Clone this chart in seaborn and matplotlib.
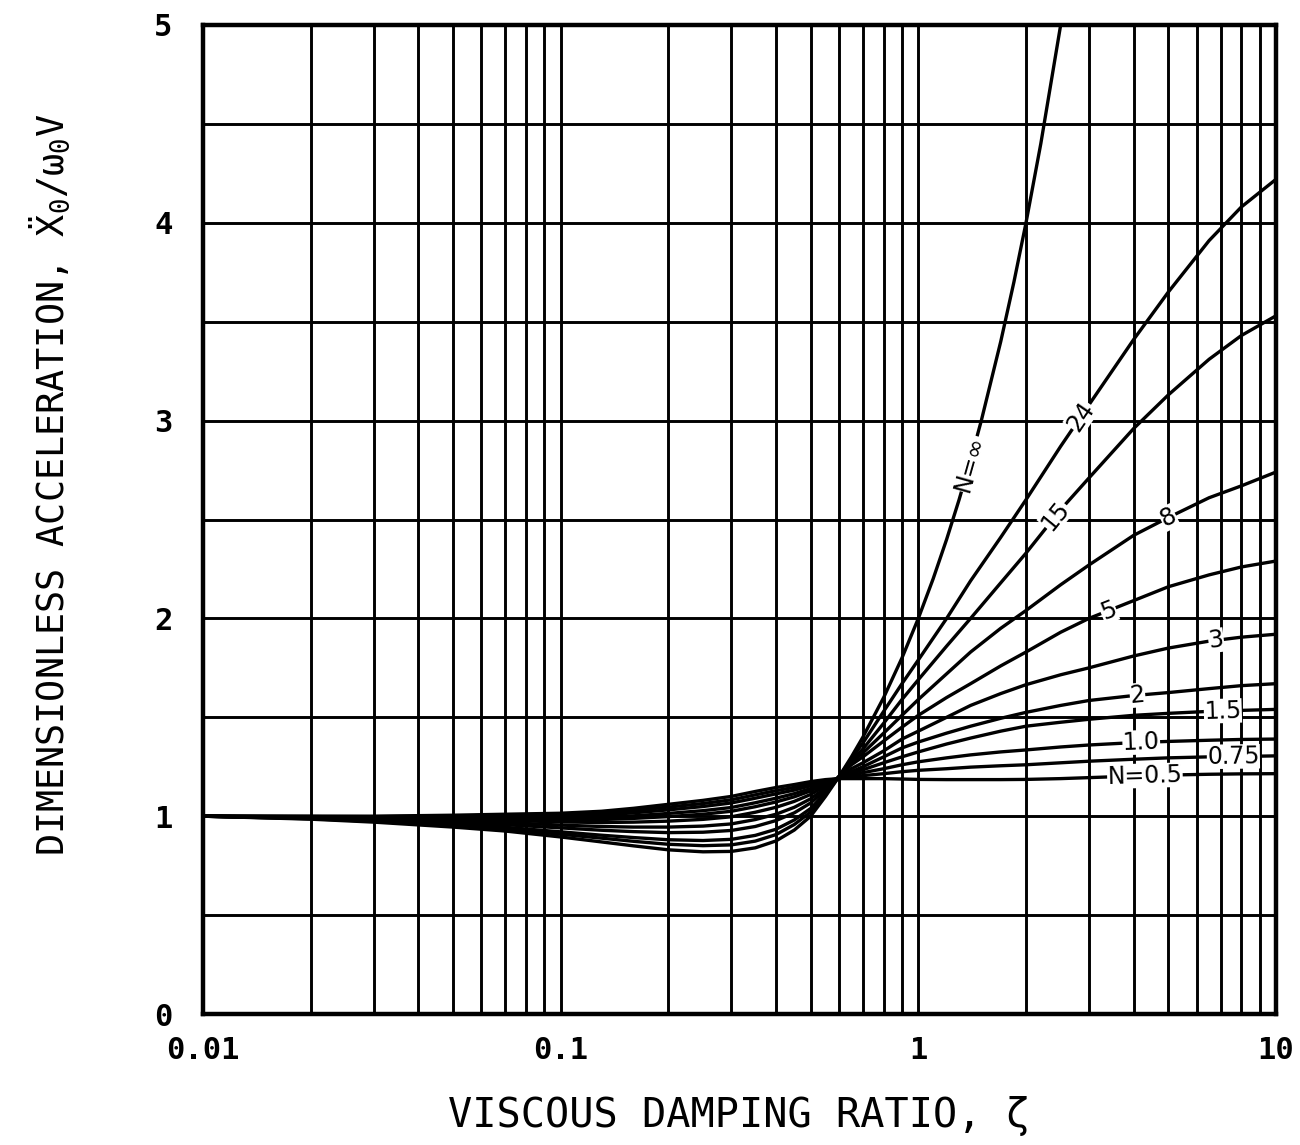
import numpy as np
import pandas as pd
import matplotlib
matplotlib.use("Agg")
import matplotlib.pyplot as plt
import seaborn as sns
from matplotlib.ticker import (FixedLocator, FixedFormatter, LogLocator,
                               MultipleLocator, NullFormatter)

# Damping ratio grid shared by the finite-N curves
zeta = [0.01, 0.02, 0.03, 0.05, 0.07, 0.1, 0.13, 0.16, 0.2, 0.25, 0.3, 0.35, 0.4,
        0.45, 0.5, 0.55, 0.6,
        0.65, 0.7, 0.8, 0.9, 1.0, 1.2, 1.4, 1.7, 2.0, 2.5, 3.0, 4.0, 5.0, 6.5, 8.0, 10.0]

# Peak dimensionless acceleration for each stiffness ratio N
accel_n0_5 = [1.0, 1.0, 1.0, 1.005, 1.01, 1.015, 1.025, 1.04, 1.06, 1.08, 1.1, 1.125,
              1.145, 1.16, 1.175, 1.185, 1.19,
              1.19, 1.19, 1.19, 1.188, 1.186, 1.185, 1.185, 1.185, 1.186, 1.19, 1.195,
              1.203, 1.208, 1.212, 1.214, 1.215]
accel_n0_75 = [1.0, 0.999, 0.998, 1.001, 1.005, 1.008, 1.016, 1.029, 1.046, 1.064, 1.083,
               1.108, 1.129, 1.146, 1.165, 1.18, 1.19,
               1.20, 1.205, 1.215, 1.225, 1.232, 1.24, 1.248, 1.255, 1.26, 1.27, 1.278,
               1.288, 1.295, 1.30, 1.302, 1.305]
accel_n1_0 = [1.0, 0.998, 0.996, 0.998, 1.0, 1.001, 1.006, 1.017, 1.032, 1.049, 1.067,
              1.091, 1.113, 1.132, 1.154, 1.175, 1.19,
              1.205, 1.22, 1.24, 1.26, 1.275, 1.295, 1.31, 1.325, 1.335, 1.35, 1.36,
              1.372, 1.378, 1.384, 1.388, 1.39]
accel_n1_5 = [1.0, 0.997, 0.994, 0.993, 0.993, 0.991, 0.994, 1.002, 1.014, 1.028, 1.044,
              1.068, 1.091, 1.114, 1.14, 1.168, 1.19,
              1.215, 1.235, 1.27, 1.30, 1.325, 1.365, 1.395, 1.43, 1.455, 1.475, 1.49,
              1.51, 1.52, 1.53, 1.535, 1.54]
accel_n2 = [1.0, 0.996, 0.992, 0.989, 0.987, 0.983, 0.983, 0.989, 0.998, 1.01, 1.025,
            1.048, 1.072, 1.098, 1.128, 1.162, 1.195,
            1.225, 1.25, 1.30, 1.345, 1.375, 1.42, 1.455, 1.495, 1.525, 1.56, 1.585,
            1.61, 1.625, 1.645, 1.66, 1.67]
accel_n3 = [1.0, 0.994, 0.989, 0.983, 0.979, 0.971, 0.968, 0.97, 0.975, 0.984, 0.997,
            1.02, 1.045, 1.075, 1.11, 1.154, 1.195,
            1.24, 1.27, 1.33, 1.39, 1.43, 1.50, 1.56, 1.62, 1.665, 1.715, 1.75,
            1.81, 1.85, 1.885, 1.905, 1.92]
accel_n5 = [1.0, 0.993, 0.985, 0.975, 0.968, 0.955, 0.948, 0.945, 0.945, 0.95, 0.961,
            0.983, 1.01, 1.045, 1.088, 1.143, 1.2,
            1.26, 1.30, 1.38, 1.45, 1.51, 1.60, 1.67, 1.76, 1.83, 1.93, 2.0,
            2.09, 2.16, 2.22, 2.26, 2.29]
accel_n8 = [1.0, 0.991, 0.981, 0.968, 0.957, 0.941, 0.929, 0.922, 0.917, 0.919, 0.928,
            0.948, 0.978, 1.017, 1.067, 1.132, 1.2,
            1.27, 1.32, 1.42, 1.51, 1.59, 1.72, 1.83, 1.95, 2.04, 2.17, 2.27,
            2.42, 2.51, 2.61, 2.67, 2.74]
accel_n15 = [1.0, 0.988, 0.977, 0.958, 0.944, 0.921, 0.904, 0.892, 0.881, 0.877, 0.883,
             0.903, 0.934, 0.981, 1.039, 1.119, 1.2,
             1.28, 1.34, 1.47, 1.59, 1.69, 1.86, 2.0, 2.18, 2.33, 2.55, 2.71,
             2.96, 3.13, 3.31, 3.43, 3.53]
accel_n24 = [1.0, 0.987, 0.974, 0.952, 0.935, 0.909, 0.889, 0.873, 0.858, 0.851, 0.855,
             0.874, 0.907, 0.958, 1.021, 1.11, 1.2,
             1.29, 1.37, 1.53, 1.67, 1.79, 2.0, 2.19, 2.41, 2.6, 2.87, 3.08,
             3.41, 3.65, 3.91, 4.08, 4.22]

# The N = infinity curve leaves the top of the chart near zeta = 2.5
zeta_inf = [0.01, 0.02, 0.03, 0.05, 0.07, 0.1, 0.13, 0.16, 0.2, 0.25, 0.3, 0.35, 0.4,
            0.45, 0.5, 0.55, 0.6, 0.65, 0.7, 0.8, 0.9, 1.0, 1.1, 1.2, 1.3, 1.4, 1.5,
            1.7, 1.85, 2.0, 2.2, 2.5]
accel_inf = [1.0, 0.985, 0.97, 0.945, 0.925, 0.895, 0.87, 0.85, 0.83, 0.82, 0.822,
             0.84, 0.875, 0.93, 1.0, 1.1, 1.2, 1.3, 1.4, 1.6, 1.8, 2.0, 2.2, 2.4, 2.6,
             2.8, 3.0, 3.4, 3.7, 4.0, 4.4, 5.0]

curve_names = ["0.5", "0.75", "1.0", "1.5", "2", "3", "5", "8", "15", "24", "inf"]
curve_zeta = [zeta] * 10 + [zeta_inf]
curve_accel = [accel_n0_5, accel_n0_75, accel_n1_0, accel_n1_5, accel_n2, accel_n3,
               accel_n5, accel_n8, accel_n15, accel_n24, accel_inf]

# In-line curve labels: text and the damping ratio where each sits
label_text = ["N=0.5", "0.75", "1.0", "1.5", "2", "3", "5", "8", "15", "24", "N=\u221e"]
label_zeta = [4.3, 7.6, 4.2, 7.1, 4.1, 6.8, 3.4, 5.0, 2.42, 2.85, 1.39]

xtick_vals = [0.01, 0.1, 1, 10]
xtick_text = ["0.01", "0.1", "1", "10"]

sns.set_style("white")
plt.rcParams["font.family"] = ["DejaVu Sans Mono", "DejaVu Sans"]
plt.rcParams["mathtext.fontset"] = "custom"
plt.rcParams["mathtext.rm"] = "DejaVu Sans Mono"
plt.rcParams["mathtext.it"] = "DejaVu Sans Mono"
plt.rcParams["text.color"] = "black"
plt.rcParams["axes.labelcolor"] = "black"

df = pd.concat(
    [pd.DataFrame({"zeta": z, "accel": a, "N": n})
     for n, z, a in zip(curve_names, curve_zeta, curve_accel)],
    ignore_index=True,
)

fig = plt.figure(figsize=(13, 11.45), dpi=100)
ax = fig.add_axes([203 / 1300, 1 - 1014 / 1145, (1276 - 203) / 1300, (1014 - 25) / 1145])

sns.lineplot(data=df, x="zeta", y="accel", hue="N", hue_order=curve_names,
             palette=["black"] * len(curve_names), estimator=None, legend=False,
             lw=2.4, ax=ax, zorder=3)

ax.set_xscale("log")
ax.set_xlim(0.01, 10)
ax.set_ylim(0, 5)

ax.xaxis.set_major_locator(FixedLocator(xtick_vals))
ax.xaxis.set_major_formatter(FixedFormatter(xtick_text))
ax.xaxis.set_minor_locator(LogLocator(base=10, subs=np.arange(2, 10)))
ax.xaxis.set_minor_formatter(NullFormatter())
ax.yaxis.set_major_locator(MultipleLocator(1))
ax.yaxis.set_minor_locator(MultipleLocator(0.5))

ax.grid(which="both", color="black", lw=2.1)
for sp in ax.spines.values():
    sp.set_color("black")
    sp.set_linewidth(3.2)
ax.tick_params(which="both", length=0, labelsize=22, colors="black")
ax.tick_params(axis="x", pad=16)
ax.tick_params(axis="y", pad=22)
for lab in ax.get_xticklabels() + ax.get_yticklabels():
    lab.set_fontweight("bold")

ax.set_xlabel("VISCOUS DAMPING RATIO, \u03b6", fontsize=29, labelpad=22, color="black")
ax.set_ylabel(r"DIMENSIONLESS ACCELERATION, $\ddot{\mathrm{X}}_0/\omega_0\mathrm{V}$",
              fontsize=26.5, color="black")
ax.yaxis.set_label_coords(-0.1215, 0.535)

# Place each label on its curve, turned to follow the curve direction
for txt, z0, z, a in zip(label_text, label_zeta, curve_zeta, curve_accel):
    lz = np.log10(z)
    y0 = np.interp(np.log10(z0), lz, a)
    za, zb = z0 / 1.06, z0 * 1.06
    p1 = ax.transData.transform((za, np.interp(np.log10(za), lz, a)))
    p2 = ax.transData.transform((zb, np.interp(np.log10(zb), lz, a)))
    ang = np.degrees(np.arctan2(p2[1] - p1[1], p2[0] - p1[0]))
    ax.text(z0, y0, txt, rotation=ang, rotation_mode="anchor", ha="center",
            va="center", fontsize=17, family="DejaVu Sans", color="black", zorder=5,
            bbox=dict(fc="white", ec="none", pad=0.2))

fig.savefig("out.png", dpi=100, facecolor="white")
